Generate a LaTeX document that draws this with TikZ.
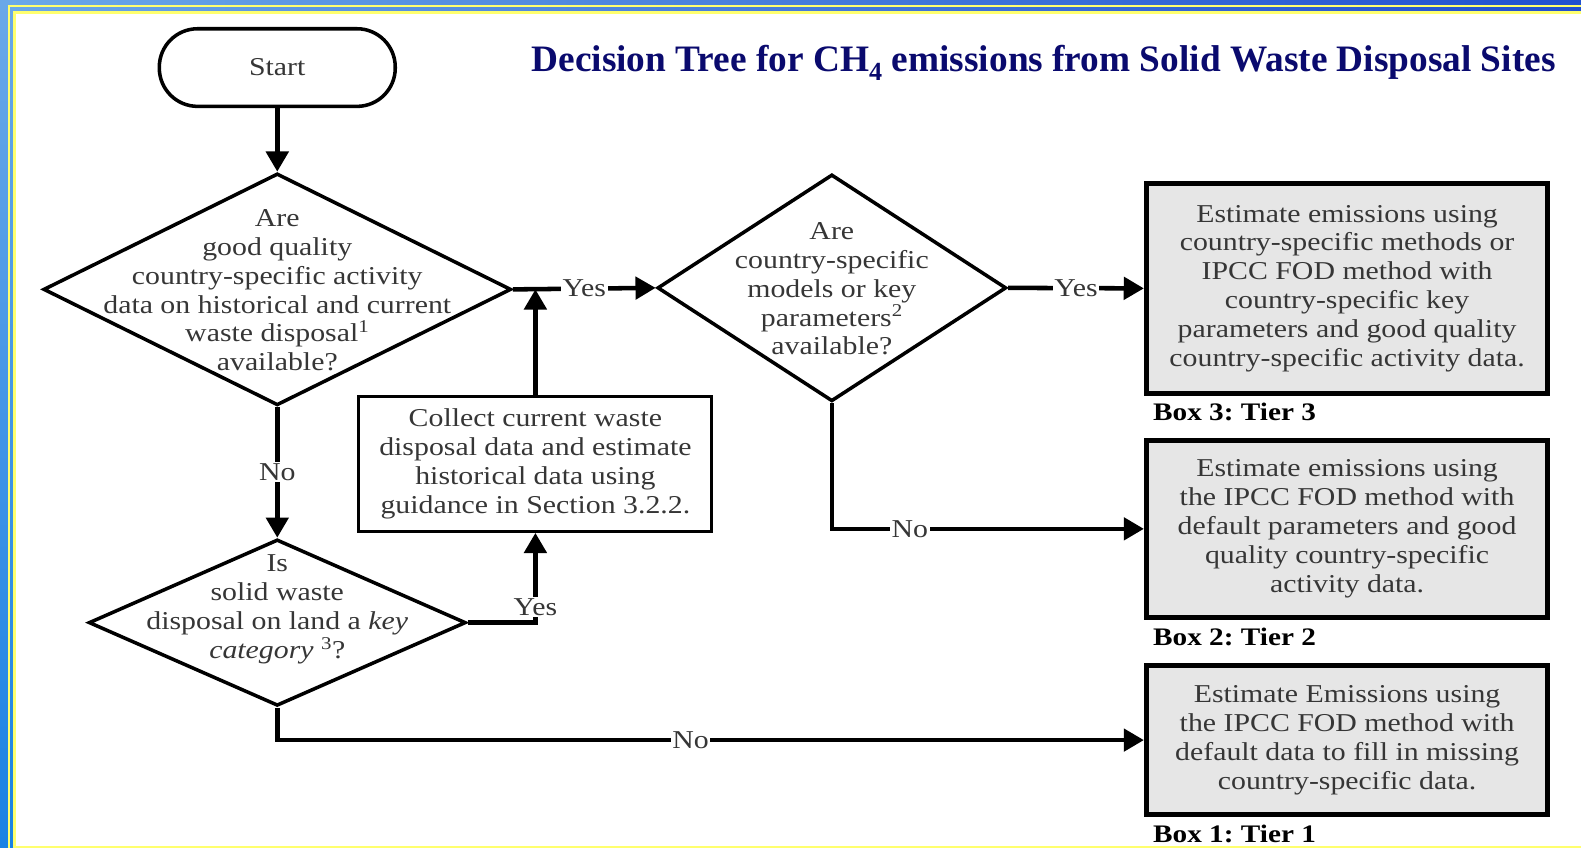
\documentclass[tikz,border=0pt]{standalone}
\usepackage{fontspec}
\setmainfont{Liberation Serif}[FakeStretch=1.16]
\newfontfamily\titlefont{Liberation Serif}
\usetikzlibrary{shapes.geometric,arrows.meta,calc}
\definecolor{txtgray}{HTML}{363636}
\definecolor{titleblue}{HTML}{0A0A6E}
\definecolor{boxgray}{HTML}{E6E6E6}
\definecolor{bordyellow}{HTML}{FFFF6E}
\definecolor{bluelight}{HTML}{6AA8E8}
\definecolor{bluedark}{HTML}{2050D0}
\definecolor{bluemid}{HTML}{1A82E4}
\frenchspacing
\tikzset{
  bodyfont/.style={font=\fontsize{25.5}{28.6}\selectfont, text=txtgray},
  startbox/.style={draw, line width=3.5pt, rounded corners=38pt, minimum width=234pt, minimum height=77pt, bodyfont, inner sep=0pt},
  decision/.style={draw, diamond, line width=3.5pt, inner sep=0pt},
  dtext/.style={align=center, bodyfont, inner sep=0pt},
  procbox/.style={draw, line width=3pt, fill=white, align=center, bodyfont, inner sep=0pt, minimum width=350pt, minimum height=134pt},
  tierbox/.style={draw, line width=5pt, fill=boxgray, align=center, bodyfont, inner sep=0pt, minimum width=398pt},
  conn/.style={line width=4.5pt, -{Triangle[length=20pt,width=22pt]}},
  lab/.style={fill=white, inner sep=1.5pt, bodyfont},
  tierlab/.style={font=\fontsize{25}{28}\selectfont\bfseries, anchor=west, inner sep=0pt},
}
\begin{document}
\begin{tikzpicture}[x=1pt,y=-1pt]
\useasboundingbox (0,0) rectangle (1568,841);
% background frame
\shade[left color=bluelight, right color=bluedark] (0,0) rectangle (1568,14);
\shade[top color=bluelight, bottom color=bluemid] (0,0) rectangle (16,841);
\draw[bordyellow, line width=2pt] (9,841) -- (9,6) -- (1568,6);
\draw[bordyellow, line width=3pt] (14,841) -- (14,12.5) -- (1568,12.5);
\fill[white] (15.5,14) rectangle (1568,839);
\draw[bordyellow, line width=2.5pt] (15.5,840) -- (1568,840);

% title
\node[anchor=east, text=titleblue, font=\titlefont\fontsize{37}{40}\selectfont\bfseries, inner sep=0pt] (title) at (1543,62.5)
  {Decision Tree for CH\textsubscript{4} emissions from Solid Waste Disposal Sites};

% nodes
\node[startbox] (start) at (275,67) {Start};

\node[decision, minimum width=464pt, minimum height=230pt] (d1) at (275,287) {};
\node[dtext] (d1t) at ([yshift=-1pt]d1.center) {Are\\good quality\\country-specific activity\\data on historical and current\\waste disposal\textsuperscript{1}\\available?};

\node[decision, minimum width=346pt, minimum height=225pt] (d2) at (825,285.5) {};
\node[dtext] (d2t) at ([yshift=-1pt]d2.center) {Are\\country-specific\\models or key\\parameters\textsuperscript{2}\\available?};

\node[decision, minimum width=374pt, minimum height=165pt] (d3) at (275,617.5) {};
\node[dtext] (d3t) at ([yshift=13pt]d3.center) {Is\\solid waste\\disposal on land a \textit{key}\\\textit{category} \textsuperscript{3}?};

\node[procbox] (collect) at (531,460) {Collect current waste\\disposal data and estimate\\historical data using\\guidance in Section 3.2.2.};

\node[tierbox, minimum height=208pt] (box3) at (1336,286) {Estimate emissions using\\country-specific methods or\\IPCC FOD method with\\country-specific key\\parameters and good quality\\country-specific activity data.};
\node[tierbox, minimum height=175pt] (box2) at (1336,524.5) {Estimate emissions using\\the IPCC FOD method with\\default parameters and good\\quality country-specific\\activity data.};
\node[tierbox, minimum height=148pt] (box1) at (1336,734) {Estimate Emissions using\\the IPCC FOD method with\\default data to fill in missing\\country-specific data.};

\node[tierlab] (l3) at ([xshift=9pt,yshift=-16pt]box3.south west) {Box 3: Tier 3};
\node[tierlab] (l2) at ([xshift=9pt,yshift=-17pt]box2.south west) {Box 2: Tier 2};
\node[tierlab] (l1) at ([xshift=9pt,yshift=-17pt]box1.south west) {Box 1: Tier 1};

% connectors
\draw[conn] (start) -- (d1.north);
\draw[conn] (d1.east) -- node[lab] (y1) {Yes} (d2.west);
\coordinate (join1) at (collect.north |- d1.east);
\draw[conn] (collect.north) -- (join1);
\draw[conn] (d2.east) -- node[lab] (y2) {Yes} (box3.west);
\draw[conn] (d2.south) -- (d2.south |- box2.west) -- node[lab, pos=0.25] (n2) {No} (box2.west);
\draw[conn] (d1.south) -- node[lab] (n1) {No} (d3.north);
\coordinate (c3) at (collect.south |- d3.east);
\draw[conn] (d3.east) -- (c3) -- node[lab, pos=0.17] (y3) {Yes} (collect.south);
\draw[conn] (d3.south) -- (d3.south |- box1.west) -- node[lab, pos=0.477] (n3) {No} (box1.west);
\end{tikzpicture}
\end{document}
